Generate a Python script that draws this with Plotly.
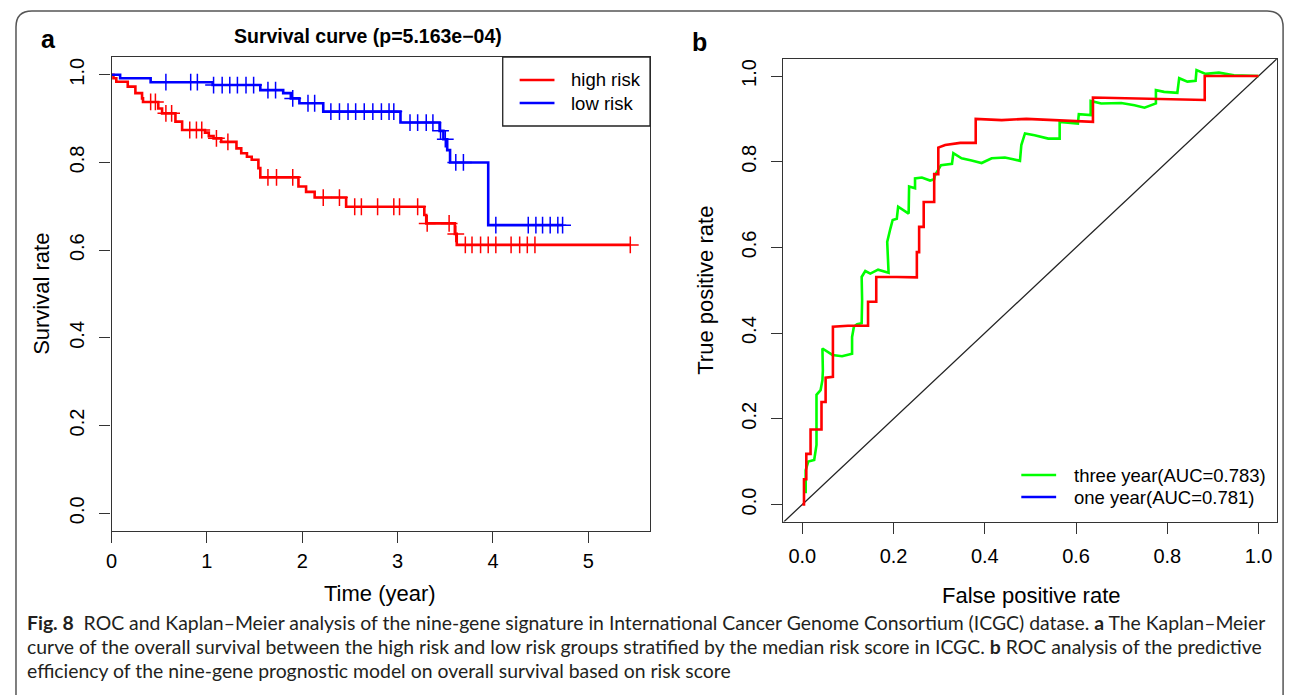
import plotly.graph_objects as go

W, H = 1293, 695
OFF = 8  # page body margin
FONT = "Liberation Sans, Arial, Helvetica, sans-serif"
CAPFONT = "Lato, Noto Sans, sans-serif"

# ---------------- Kaplan-Meier data ----------------
high_event_t = [0.02, 0.05, 0.17, 0.25, 0.32, 0.33, 0.49, 0.53, 0.67, 0.74, 0.98, 1.02, 1.07, 1.15,
                1.31, 1.36, 1.42, 1.47, 1.54, 1.56, 1.96, 2.04, 2.13, 2.46, 3.28, 3.30, 3.60, 3.62]
high_event_s = [0.992, 0.984, 0.973, 0.958, 0.946, 0.938, 0.923, 0.912, 0.893, 0.874, 0.868, 0.860, 0.855, 0.847,
                0.832, 0.821, 0.813, 0.806, 0.787, 0.766, 0.745, 0.733, 0.720, 0.699, 0.680, 0.661, 0.637, 0.612]
high_censor_t = [0.41, 0.46, 0.57, 0.63, 0.82, 0.89, 0.946, 1.10, 1.22, 1.64, 1.73, 1.90, 2.22, 2.39, 2.55,
                 2.62, 2.79, 2.96, 3.02, 3.21, 3.31, 3.54, 3.61, 3.71, 3.78, 3.87, 3.95, 4.03, 4.19, 4.28,
                 4.36, 4.44, 5.44]

low_event_t = [0.09, 0.41, 1.06, 1.56, 1.80, 1.88, 1.97, 2.22, 3.03, 3.44, 3.48, 3.52, 3.55, 3.95]
low_event_s = [0.992, 0.983, 0.9765, 0.965, 0.958, 0.946, 0.935, 0.916, 0.891, 0.872, 0.853, 0.828, 0.800, 0.657]
low_censor_t = [0.57, 0.83, 0.90, 1.07, 1.16, 1.24, 1.32, 1.41, 1.49, 1.64, 1.72, 1.90, 2.06, 2.13, 2.30,
                2.39, 2.48, 2.56, 2.65, 2.74, 2.83, 2.91, 2.96, 3.13, 3.21, 3.30, 3.37, 3.45, 3.50, 3.61,
                3.69, 4.03, 4.37, 4.45, 4.52, 4.60, 4.68, 4.73]

# ---------------- ROC data ----------------
three_fpr = [0.0073, 0.0073, 0.013, 0.026, 0.031, 0.031, 0.040, 0.044, 0.045, 0.044, 0.066, 0.087, 0.109,
             0.109, 0.113, 0.120, 0.130, 0.131, 0.130, 0.138, 0.149, 0.156, 0.166, 0.189, 0.186, 0.193,
             0.198, 0.207, 0.210, 0.233, 0.234, 0.247, 0.247, 0.262, 0.280, 0.289, 0.291, 0.304, 0.328,
             0.331, 0.349, 0.371, 0.393, 0.415, 0.444, 0.462, 0.477, 0.480, 0.488, 0.509, 0.539, 0.564,
             0.564, 0.604, 0.606, 0.632, 0.632, 0.655, 0.699, 0.728, 0.750, 0.775, 0.775, 0.793, 0.822,
             0.826, 0.844, 0.862, 0.864, 0.884, 0.913, 0.946, 1.0]
three_tpr = [0.026, 0.080, 0.100, 0.104, 0.139, 0.256, 0.267, 0.290, 0.313, 0.364, 0.349, 0.346, 0.352,
             0.391, 0.415, 0.421, 0.423, 0.477, 0.531, 0.545, 0.539, 0.543, 0.548, 0.541, 0.613, 0.644,
             0.664, 0.667, 0.695, 0.679, 0.742, 0.738, 0.761, 0.763, 0.756, 0.759, 0.769, 0.792, 0.795,
             0.820, 0.808, 0.803, 0.797, 0.808, 0.810, 0.806, 0.802, 0.839, 0.866, 0.862, 0.854, 0.854,
             0.893, 0.889, 0.911, 0.909, 0.942, 0.936, 0.937, 0.932, 0.926, 0.936, 0.967, 0.963, 0.961,
             0.995, 0.987, 0.989, 1.014, 1.005, 1.008, 1.002, 1.0]
one_fpr = [0, 0.0036, 0.0036, 0.0087, 0.0087, 0.018, 0.018, 0.042, 0.042, 0.051, 0.051, 0.067, 0.067, 0.100,
           0.144, 0.144, 0.162, 0.162, 0.207, 0.251, 0.251, 0.256, 0.256, 0.266, 0.266, 0.289, 0.289, 0.298,
           0.298, 0.313, 0.346, 0.380, 0.380, 0.437, 0.491, 0.637, 0.637, 0.882, 0.882, 1.0]
one_tpr = [0, 0, 0.059, 0.059, 0.118, 0.118, 0.175, 0.175, 0.239, 0.239, 0.296, 0.298, 0.415, 0.417,
           0.417, 0.473, 0.473, 0.531, 0.531, 0.530, 0.589, 0.589, 0.648, 0.648, 0.706, 0.706, 0.771, 0.771,
           0.833, 0.839, 0.844, 0.844, 0.900, 0.897, 0.900, 0.893, 0.950, 0.944, 1.0, 1.0]

km_ticks = [0, 1, 2, 3, 4, 5]
prob_ticks = [0.0, 0.2, 0.4, 0.6, 0.8, 1.0]
prob_labels = ["0.0", "0.2", "0.4", "0.6", "0.8", "1.0"]

km_legend_names = ["high risk", "low risk"]
roc_legend_names = ["three year(AUC=0.783)", "one year(AUC=0.781)"]

title_a = "Survival curve (p=5.163e\u221204)"
caption = [
    "<b>Fig. 8</b>  ROC and Kaplan\u2013Meier analysis of the nine-gene signature in International Cancer Genome Consortium (ICGC) datase. <b>a</b> The Kaplan\u2013Meier",
    "curve of the overall survival between the high risk and low risk groups stratified by the median risk score in ICGC. <b>b</b> ROC analysis of the predictive",
    "efficiency of the nine-gene prognostic model on overall survival based on risk score",
]


def px(x):
    return (x - OFF) / W


def py(y):
    return 1 - (y - OFF) / H


def step_curve(ts, ss, end):
    xs = [0] + list(ts) + [end]
    ys = [1.0] + list(ss) + [ss[-1]]
    return xs, ys


def surv_at(t, ts, ss):
    s = 1.0
    for tt, sv in zip(ts, ss):
        if tt <= t:
            s = sv
    return s


RED, BLUE, GREEN = "#FF0000", "#0000FF", "#00FF00"
AX = "#333333"

fig = go.Figure()

# KM curves
hx, hy = step_curve(high_event_t, high_event_s, max(high_censor_t))
lx, ly = step_curve(low_event_t, low_event_s, max(low_censor_t))
fig.add_trace(go.Scatter(x=hx, y=hy, mode="lines", line=dict(color=RED, width=2.6, shape="hv"),
                         name="high risk", xaxis="x", yaxis="y"))
fig.add_trace(go.Scatter(x=lx, y=ly, mode="lines", line=dict(color=BLUE, width=2.6, shape="hv"),
                         name="low risk", xaxis="x", yaxis="y"))
fig.add_trace(go.Scatter(x=high_censor_t, y=[surv_at(t, high_event_t, high_event_s) for t in high_censor_t],
                         mode="markers", marker=dict(symbol="cross-thin", size=12, line=dict(color=RED, width=1.5)),
                         xaxis="x", yaxis="y"))
fig.add_trace(go.Scatter(x=low_censor_t, y=[surv_at(t, low_event_t, low_event_s) for t in low_censor_t],
                         mode="markers", marker=dict(symbol="cross-thin", size=12, line=dict(color=BLUE, width=1.5)),
                         xaxis="x", yaxis="y"))

# ROC curves
fig.add_trace(go.Scatter(x=[-0.1, 1.1], y=[-0.1, 1.1], mode="lines", line=dict(color="#222222", width=1.3),
                         xaxis="x2", yaxis="y2"))
fig.add_trace(go.Scatter(x=three_fpr, y=three_tpr, mode="lines", line=dict(color=GREEN, width=2.6),
                         name="three year", xaxis="x2", yaxis="y2"))
fig.add_trace(go.Scatter(x=one_fpr, y=one_tpr, mode="lines", line=dict(color=RED, width=2.6),
                         name="one year", xaxis="x2", yaxis="y2"))

axis_common = dict(showgrid=False, zeroline=False, showline=True, linecolor=AX, linewidth=1.3, mirror=True,
                   ticks="outside", ticklen=11, tickwidth=1.3, tickcolor=AX,
                   tickfont=dict(family=FONT, size=20, color="#000"))

fig.update_layout(
    width=W, height=H, margin=dict(l=0, r=0, t=0, b=0),
    paper_bgcolor="white", plot_bgcolor="white", showlegend=False,
    xaxis=dict(domain=[px(106), px(647)], range=[0, 5.647], tickvals=km_ticks, anchor="y",
               ticklabelstandoff=1, **axis_common),
    yaxis=dict(domain=[py(530.8), py(57.2)], range=[-0.04, 1.04], tickvals=prob_ticks, ticktext=prob_labels,
               tickangle=-90, anchor="x", ticklabelstandoff=7, **axis_common),
    xaxis2=dict(domain=[px(781), px(1276.7)], range=[-0.0415, 1.04], tickvals=prob_ticks, ticktext=prob_labels,
                anchor="y2", ticklabelstandoff=5, **axis_common),
    yaxis2=dict(domain=[py(521.6), py(58.9)], range=[-0.04, 1.04], tickvals=prob_ticks, ticktext=prob_labels,
                tickangle=-90, anchor="x2", ticklabelstandoff=7, **axis_common),
)

shapes = []
ann = []

# KM legend (boxed, R style)
shapes.append(dict(type="rect", xref="paper", yref="paper", x0=px(499), x1=px(647), y0=py(126), y1=py(57.2),
                   line=dict(color="#222", width=1.3), fillcolor="white", layer="above"))
for i, (name, col) in enumerate(zip(km_legend_names, [RED, BLUE])):
    yy = 80 + 23 * i
    shapes.append(dict(type="line", xref="paper", yref="paper", x0=px(516), x1=px(551), y0=py(yy), y1=py(yy),
                       line=dict(color=col, width=2.6), layer="above"))
    ann.append(dict(text=name, x=px(566), y=py(yy), xref="paper", yref="paper", showarrow=False,
                    font=dict(family=FONT, size=18.5, color="#000"), xanchor="left", yanchor="middle"))

# ROC legend (no box)
for i, (name, col) in enumerate(zip(roc_legend_names, [GREEN, BLUE])):
    yy = 475 + 22 * i
    shapes.append(dict(type="line", xref="paper", yref="paper", x0=px(1020), x1=px(1055), y0=py(yy), y1=py(yy),
                       line=dict(color=col, width=2.6), layer="above"))
    ann.append(dict(text=name, x=px(1071), y=py(yy), xref="paper", yref="paper", showarrow=False,
                    font=dict(family=FONT, size=18.5, color="#000"), xanchor="left", yanchor="middle"))

ann.append(dict(text="<b>" + title_a + "</b>", x=px(364), y=py(36), xref="paper", yref="paper",
                showarrow=False, font=dict(family=FONT, size=19.5, color="#000"), xanchor="center", yanchor="middle"))
ann.append(dict(text="<b>a</b>", x=px(43), y=py(39), xref="paper", yref="paper", showarrow=False,
                font=dict(family=FONT, size=25, color="#000"), xanchor="center", yanchor="middle"))
ann.append(dict(text="<b>b</b>", x=px(697), y=py(42), xref="paper", yref="paper", showarrow=False,
                font=dict(family=FONT, size=25, color="#000"), xanchor="center", yanchor="middle"))
ann.append(dict(text="Survival rate", x=px(35), y=py(294), xref="paper", yref="paper", showarrow=False,
                textangle=-90, font=dict(family=FONT, size=22, color="#000"), xanchor="center", yanchor="middle"))
ann.append(dict(text="Time (year)", x=px(376), y=py(593), xref="paper", yref="paper", showarrow=False,
                font=dict(family=FONT, size=22, color="#000"), xanchor="center", yanchor="middle"))
ann.append(dict(text="True positive rate", x=px(702), y=py(290), xref="paper", yref="paper", showarrow=False,
                textangle=-90, font=dict(family=FONT, size=22, color="#000"), xanchor="center", yanchor="middle"))
ann.append(dict(text="False positive rate", x=px(1030), y=py(595), xref="paper", yref="paper", showarrow=False,
                font=dict(family=FONT, size=22, color="#000"), xanchor="center", yanchor="middle"))
for i, line in enumerate(caption):
    ann.append(dict(text=line, x=px(19), y=py(622 + 24 * i), xref="paper", yref="paper", showarrow=False,
                    font=dict(family=CAPFONT, size=19.4, color="#231f20"), xanchor="left", yanchor="middle"))

# rounded outer frame
x0, x1, y0, y1 = px(10), px(1283), py(11), py(760)
rx, ry = 16 / W, 16 / H
path = (f"M {x0},{y1} L {x0},{y0 - ry} Q {x0},{y0} {x0 + rx},{y0} "
        f"L {x1 - rx},{y0} Q {x1},{y0} {x1},{y0 - ry} L {x1},{y1}")
shapes.append(dict(type="path", path=path, xref="paper", yref="paper", line=dict(color="#555555", width=1.5)))

fig.update_layout(annotations=ann, shapes=shapes)

fig.write_html("out.html")
